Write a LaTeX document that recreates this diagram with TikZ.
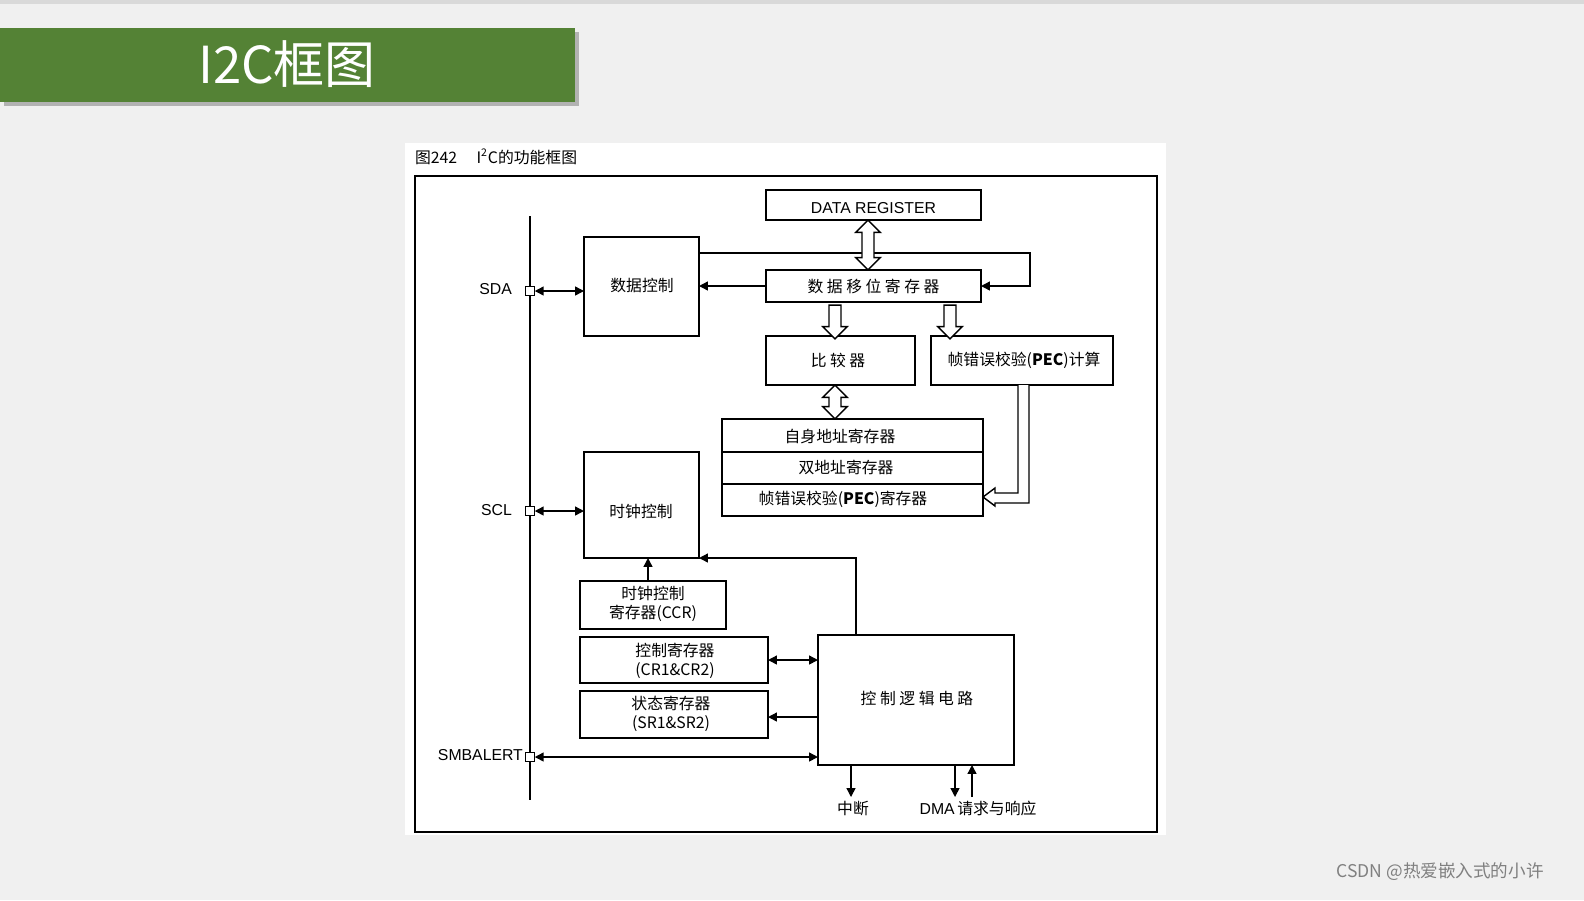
\documentclass[tikz,border=0pt]{standalone}
\usepackage{fontspec}
\setmainfont{Noto Sans CJK SC}
\newfontfamily\latinfont{Liberation Sans}
\usetikzlibrary{shapes.arrows,arrows.meta}
\definecolor{titlegreen}{HTML}{548235}
\definecolor{pagegray}{HTML}{F0F0F0}
\tikzset{
  conn/.style={thick, -{Triangle[length=5pt,width=5pt]}},
  biconn/.style={thick, {Triangle[length=5pt,width=5pt]}-{Triangle[length=5pt,width=5pt]}},
  pin/.style={draw, fill=white, minimum size=5pt, inner sep=0pt},
  hollow/.style={single arrow, draw, thick, fill=white, inner sep=2pt,
    single arrow head extend=2.5pt, single arrow head indent=0pt},
  hollowbi/.style={double arrow, draw, thick, fill=white, inner sep=2pt,
    double arrow head extend=2.5pt},
  lbl/.style={font=\fontsize{9}{11}\selectfont, inner sep=1pt}
}
\begin{document}
\begin{tikzpicture}[x=0.02cm, y=-0.02cm]
    % Page
    \useasboundingbox (0,0) rectangle (1584,900);
    \fill[pagegray] (0,0) rectangle (1584,900);
    \fill[gray!30] (0,0) rectangle (1584,4);
    \fill[gray!60] (4,32) rectangle (579,106);
    \fill[titlegreen] (0,28) rectangle (575,102);
    \node[white, font=\fontsize{29}{30}\selectfont] (title) at (287,64) {I2C框图};
    \fill[white] (405,143) rectangle (1166,835);
    \draw[thick] (415,176) rectangle (1157,832);
    \node[anchor=west, lbl] (cap) at (413,157) {图242\quad\ I\textsuperscript{2}C的功能框图};
    \node[gray, font=\fontsize{10}{12}\selectfont] (mark) at (1440,872) {CSDN @热爱嵌入式的小许};

    % Blocks
    \draw[thick] (766,190) rectangle (981,220);
    \node[lbl, font=\latinfont\fontsize{9}{11}\selectfont] (dr) at (873.5,208) {DATA REGISTER};
    \draw[thick] (766,270) rectangle (981,302);
    \node[lbl] (shift) at (873.5,286) {数\ 据\ 移\ 位\ 寄\ 存\ 器};
    \draw[thick] (584,237) rectangle (699,336);
    \node[lbl] (dctl) at (642,285) {数据控制};
    \draw[thick] (766,336) rectangle (915,385);
    \node[lbl] (cmp) at (838,360) {比\ 较\ 器};
    \draw[thick] (931,336) rectangle (1113,385);
    \node[lbl] (pecc) at (1024,360) {帧错误校验(\textbf{PEC})计算};
    \draw[thick] (722,419) rectangle (983,516);
    \draw[thick] (722,452) -- (983,452);
    \draw[thick] (722,484) -- (983,484);
    \node[lbl] (own) at (840,436) {自身地址寄存器};
    \node[lbl] (dual) at (846,467) {双地址寄存器};
    \node[lbl] (pecr) at (843,499) {帧错误校验(\textbf{PEC})寄存器};
    \draw[thick] (584,452) rectangle (699,558);
    \node[lbl] (cctl) at (641,511) {时钟控制};
    \draw[thick] (580,581) rectangle (726,629);
    \node[lbl, align=center] (ccr) at (653,604) {时钟控制\\寄存器(CCR)};
    \draw[thick] (580,637) rectangle (768,683);
    \node[lbl, align=center] (cr) at (675,661) {控制寄存器\\(CR1\&CR2)};
    \draw[thick] (580,691) rectangle (768,738);
    \node[lbl, align=center] (sr) at (671,714) {状态寄存器\\(SR1\&SR2)};
    \draw[thick] (818,635) rectangle (1014,765);
    \node[lbl] (logic) at (917,698) {控\ 制\ 逻\ 辑\ 电\ 路};

    % Bus and pins
    \draw[line width=1.6pt] (530,216) -- (530,800);
    \node[pin] (sda) at (530,291) {};
    \node[pin] (scl) at (530,511) {};
    \node[pin] (smb) at (530,757) {};
    \node[lbl, anchor=east, font=\latinfont\fontsize{9}{11}\selectfont] at (514,289) {SDA};
    \node[lbl, anchor=east, font=\latinfont\fontsize{9}{11}\selectfont] at (514,510) {SCL};
    \node[lbl, anchor=east, font=\latinfont\fontsize{9}{11}\selectfont] at (525,755) {SMBALERT};

    % Connectors
    \coordinate (dtop) at (699,253);
    \coordinate (sin) at (981,286);
    \draw[conn] (dtop) -- (1030,253) |- (sin);
    \draw[conn] (766,286) -- (699,286);
    \draw[biconn] (sda.east) -- (584,291);
    \draw[biconn] (scl.east) -- (584,511);
    \draw[conn] (648,581) -- (648,558);
    \draw[biconn] (768,660) -- (818,660);
    \draw[conn] (818,717) -- (768,717);
    \draw[conn] (856,635) |- (699,558);
    \draw[biconn] (smb.east) -- (818,757);
    \draw[conn] (851,765) -- (851,797);
    \draw[conn] (955,765) -- (955,797);
    \draw[conn] (972,797) -- (972,765);
    \node[lbl] (irq) at (853,808) {中断};
    \node[lbl] (dma) at (978,808) {\latinfont DMA\,\rmfamily 请求与响应};

    % Hollow arrows
    \node[hollowbi, minimum width=14pt, minimum height=28.4pt, rotate=90] (a1) at (868,245) {};
    \node[hollow, minimum width=14pt, minimum height=19.3pt, shape border rotate=270] (a2) at (835,319) {};
    \node[hollow, minimum width=14pt, minimum height=19.3pt, shape border rotate=270] (a3) at (950,319) {};
    \node[hollowbi, minimum width=14pt, minimum height=19.3pt, rotate=90] (a4) at (835,402) {};
    \draw[thick, fill=white] (1018,385) -- (1018,493) -- (995,493) -- (995,488) -- (983,497)
      -- (995,506) -- (995,503) -- (1029,503) -- (1029,385);
\end{tikzpicture}
\end{document}
